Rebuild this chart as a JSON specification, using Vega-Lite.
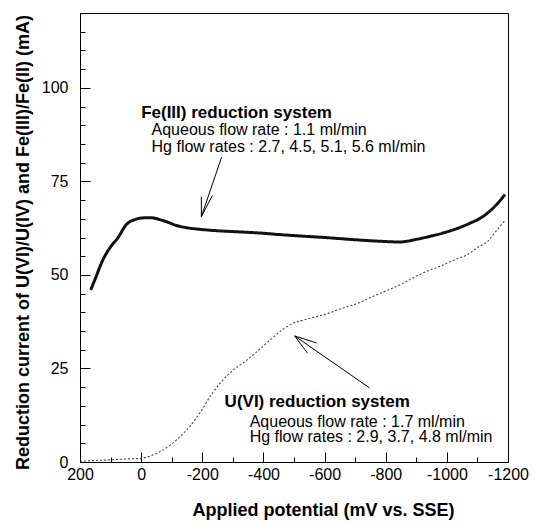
{
  "$schema": "https://vega.github.io/schema/vega-lite/v6.json",
  "width": 428,
  "height": 449,
  "autosize": {"type": "none"},
  "padding": {"left": 80, "top": 13, "right": 27, "bottom": 60},
  "background": "#ffffff",
  "config": {
    "font": "Liberation Sans",
    "view": {"stroke": "#000000", "strokeWidth": 1},
    "axis": {
      "grid": false,
      "domainColor": "#000000",
      "tickColor": "#000000",
      "labelColor": "#000000",
      "titleColor": "#000000",
      "labelFontSize": 16,
      "titleFontSize": 18,
      "titleFontWeight": "bold",
      "labelFlush": false,
      "labelOverlap": false
    }
  },
  "resolve": {"axis": {"x": "independent", "y": "independent"}},
  "datasets": {
    "curves": [
      {"mv": 165, "i": 46, "series": "Fe"},
      {"mv": 150, "i": 49, "series": "Fe"},
      {"mv": 127, "i": 53.7, "series": "Fe"},
      {"mv": 100, "i": 57.5, "series": "Fe"},
      {"mv": 77, "i": 59.8, "series": "Fe"},
      {"mv": 48, "i": 63.5, "series": "Fe"},
      {"mv": 20, "i": 64.8, "series": "Fe"},
      {"mv": 0, "i": 65.2, "series": "Fe"},
      {"mv": -30, "i": 65.3, "series": "Fe"},
      {"mv": -60, "i": 64.8, "series": "Fe"},
      {"mv": -90, "i": 64, "series": "Fe"},
      {"mv": -116, "i": 63.2, "series": "Fe"},
      {"mv": -150, "i": 62.6, "series": "Fe"},
      {"mv": -191, "i": 62.2, "series": "Fe"},
      {"mv": -250, "i": 61.8, "series": "Fe"},
      {"mv": -320, "i": 61.5, "series": "Fe"},
      {"mv": -388, "i": 61.2, "series": "Fe"},
      {"mv": -450, "i": 60.8, "series": "Fe"},
      {"mv": -520, "i": 60.4, "series": "Fe"},
      {"mv": -600, "i": 60, "series": "Fe"},
      {"mv": -700, "i": 59.4, "series": "Fe"},
      {"mv": -780, "i": 59, "series": "Fe"},
      {"mv": -845, "i": 58.8, "series": "Fe"},
      {"mv": -900, "i": 59.5, "series": "Fe"},
      {"mv": -944, "i": 60.3, "series": "Fe"},
      {"mv": -1000, "i": 61.5, "series": "Fe"},
      {"mv": -1040, "i": 62.6, "series": "Fe"},
      {"mv": -1075, "i": 63.8, "series": "Fe"},
      {"mv": -1110, "i": 65.2, "series": "Fe"},
      {"mv": -1140, "i": 67, "series": "Fe"},
      {"mv": -1165, "i": 69, "series": "Fe"},
      {"mv": -1190, "i": 71.5, "series": "Fe"},
      {"mv": 200, "i": 0.2, "series": "U"},
      {"mv": 150, "i": 0.4, "series": "U"},
      {"mv": 100, "i": 0.6, "series": "U"},
      {"mv": 50, "i": 0.8, "series": "U"},
      {"mv": 0, "i": 1, "series": "U"},
      {"mv": -30, "i": 1.6, "series": "U"},
      {"mv": -60, "i": 2.7, "series": "U"},
      {"mv": -95, "i": 4.5, "series": "U"},
      {"mv": -126, "i": 6.7, "series": "U"},
      {"mv": -160, "i": 9.6, "series": "U"},
      {"mv": -191, "i": 13, "series": "U"},
      {"mv": -233, "i": 18.4, "series": "U"},
      {"mv": -289, "i": 23.7, "series": "U"},
      {"mv": -345, "i": 27.2, "series": "U"},
      {"mv": -390, "i": 30.3, "series": "U"},
      {"mv": -430, "i": 33.2, "series": "U"},
      {"mv": -465, "i": 35.5, "series": "U"},
      {"mv": -495, "i": 37, "series": "U"},
      {"mv": -530, "i": 37.9, "series": "U"},
      {"mv": -570, "i": 38.8, "series": "U"},
      {"mv": -607, "i": 39.6, "series": "U"},
      {"mv": -650, "i": 40.9, "series": "U"},
      {"mv": -705, "i": 42.3, "series": "U"},
      {"mv": -760, "i": 44.3, "series": "U"},
      {"mv": -797, "i": 45.6, "series": "U"},
      {"mv": -845, "i": 47.3, "series": "U"},
      {"mv": -921, "i": 50.5, "series": "U"},
      {"mv": -980, "i": 52.4, "series": "U"},
      {"mv": -1030, "i": 54.2, "series": "U"},
      {"mv": -1065, "i": 55.3, "series": "U"},
      {"mv": -1100, "i": 57.3, "series": "U"},
      {"mv": -1131, "i": 58.8, "series": "U"},
      {"mv": -1167, "i": 62.3, "series": "U"},
      {"mv": -1190, "i": 64.5, "series": "U"}
    ],
    "notes": [
      {"tx": 0, "ty": 93.3, "label": "Fe(III) reduction system", "kind": "title"},
      {"tx": -34, "ty": 88.6, "label": "Aqueous flow rate : 1.1 ml/min", "kind": "body"},
      {"tx": -34, "ty": 84.3, "label": "Hg flow rates : 2.7, 4.5, 5.1, 5.6 ml/min", "kind": "body"},
      {"tx": -273, "ty": 16.0, "label": "U(VI) reduction system", "kind": "title"},
      {"tx": -355, "ty": 10.8, "label": "Aqueous flow rate : 1.7 ml/min", "kind": "body"},
      {"tx": -355, "ty": 6.6, "label": "Hg flow rates : 2.9, 3.7, 4.8 ml/min", "kind": "body"}
    ],
    "arrows": [
      {"ax": -263, "ay": 81.4, "bx": -197, "by": 65.6},
      {"ax": -197, "ay": 70.9, "bx": -197, "by": 65.6},
      {"ax": -233, "ay": 71.2, "bx": -197, "by": 65.6},
      {"ax": -747, "ay": 19.8, "bx": -502, "by": 33.7},
      {"ax": -574, "ay": 31.8, "bx": -502, "by": 33.7},
      {"ax": -544, "ay": 29.1, "bx": -502, "by": 33.7}
    ]
  },
  "layer": [
    {
      "data": {"name": "curves"},
      "mark": {"type": "line", "interpolate": "monotone"},
      "encoding": {
        "x": {
          "field": "mv",
          "type": "quantitative",
          "scale": {"domain": [-1200, 200], "reverse": true, "nice": false},
          "axis": {
            "orient": "bottom",
            "title": "Applied potential (mV vs. SSE)",
            "values": [200, 0, -200, -400, -600, -800, -1000, -1200],
            "labelExpr": "'' + datum.value",
            "tickSize": -10,
            "labelPadding": 14,
            "titleX": 243,
            "titleY": 48,
            "titleBaseline": "middle",
            "titleAnchor": "middle",
            "titleAlign": "center"
          }
        },
        "y": {
          "field": "i",
          "type": "quantitative",
          "scale": {"domain": [0, 120], "nice": false},
          "axis": {
            "orient": "left",
            "title": "Reduction current of U(VI)/U(IV) and Fe(III)/Fe(II) (mA)",
            "values": [0, 25, 50, 75, 100],
            "tickSize": -10,
            "labelPadding": 22,
            "titleX": -57,
            "titleY": 229,
            "titleBaseline": "middle",
            "titleAlign": "center",
            "titleAngle": -90
          }
        },
        "detail": {"field": "series", "type": "nominal"},
        "color": {"field": "series", "type": "nominal", "scale": {"domain": ["Fe", "U"], "range": ["#111111", "#444444"]}, "legend": null},
        "strokeWidth": {"field": "series", "type": "nominal", "scale": {"domain": ["Fe", "U"], "range": [3, 1.1]}, "legend": null},
        "strokeDash": {"field": "series", "type": "nominal", "scale": {"domain": ["Fe", "U"], "range": [[1, 0], [2, 2]]}, "legend": null}
      }
    },
    {
      "data": {"name": "arrows"},
      "mark": {"type": "rule", "color": "#000000", "strokeWidth": 1},
      "encoding": {
        "x": {
          "field": "ax",
          "type": "quantitative",
          "axis": {
            "orient": "bottom",
            "title": null,
            "labels": false,
            "domain": false,
            "tickSize": -5,
            "values": [100, -100, -300, -500, -700, -900, -1100]
          }
        },
        "y": {
          "field": "ay",
          "type": "quantitative",
          "axis": {
            "orient": "left",
            "title": null,
            "labels": false,
            "domain": false,
            "tickSize": -5,
            "values": [5, 10, 15, 20, 30, 35, 40, 45, 55, 60, 65, 70, 80, 85, 90, 95, 105, 110, 115]
          }
        },
        "x2": {"field": "bx"},
        "y2": {"field": "by"}
      }
    },
    {
      "data": {"name": "notes"},
      "transform": [{"filter": "datum.kind === 'title'"}],
      "mark": {"type": "text", "align": "left", "baseline": "middle", "fontSize": 17, "fontWeight": "bold", "color": "#000000"},
      "encoding": {
        "x": {"field": "tx", "type": "quantitative", "axis": null},
        "y": {"field": "ty", "type": "quantitative", "axis": null},
        "text": {"field": "label"}
      }
    },
    {
      "data": {"name": "notes"},
      "transform": [{"filter": "datum.kind === 'body'"}],
      "mark": {"type": "text", "align": "left", "baseline": "middle", "fontSize": 16, "color": "#000000"},
      "encoding": {
        "x": {"field": "tx", "type": "quantitative", "axis": null},
        "y": {"field": "ty", "type": "quantitative", "axis": null},
        "text": {"field": "label"}
      }
    }
  ]
}
